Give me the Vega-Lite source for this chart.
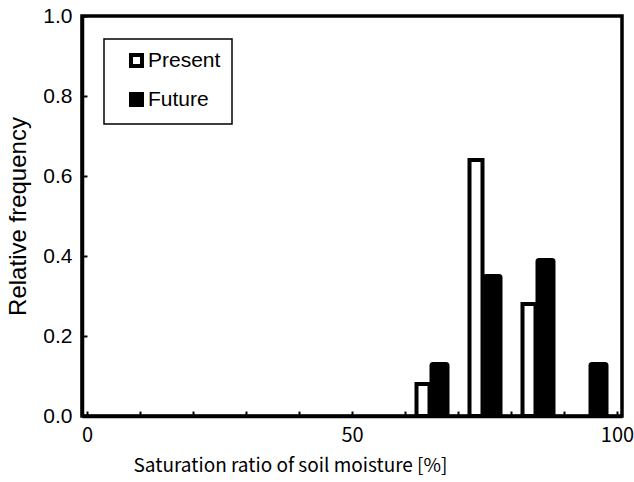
{
  "$schema": "https://vega.github.io/schema/vega-lite/v6.json",
  "width": 540,
  "height": 400,
  "autosize": {"type": "none"},
  "padding": {"left": 82, "top": 16, "right": 12, "bottom": 66},
  "background": "white",
  "config": {
    "view": {"stroke": "black", "strokeWidth": 3.5},
    "font": "Liberation Sans"
  },
  "data": {
    "values": [
      {"moisture": 65, "period": "Present", "freq": 0.08},
      {"moisture": 75, "period": "Present", "freq": 0.64},
      {"moisture": 85, "period": "Present", "freq": 0.28},
      {"moisture": 65, "period": "Future", "freq": 0.13},
      {"moisture": 75, "period": "Future", "freq": 0.35},
      {"moisture": 85, "period": "Future", "freq": 0.39},
      {"moisture": 95, "period": "Future", "freq": 0.13}
    ]
  },
  "encoding": {
    "x": {
      "field": "moisture",
      "type": "quantitative",
      "scale": {"domain": [0, 100], "nice": false},
      "axis": {
        "title": "Saturation ratio of soil moisture [%]",
        "values": [0, 10, 20, 30, 40, 50, 60, 70, 80, 90, 100],
        "labelExpr": "datum.value % 50 === 0 ? datum.label : ''",
        "grid": false,
        "tickSize": -5,
        "tickWidth": 2,
        "tickColor": "black",
        "domainColor": "black",
        "domainWidth": 3.5,
        "labelFont": "Noto Sans CJK JP",
        "labelFontSize": 20,
        "labelColor": "black",
        "labelPadding": 14,
        "labelFlush": false,
        "labelAlign": "center",
        "titleFont": "Noto Sans CJK JP",
        "titleFontSize": 19,
        "titleFontWeight": "normal",
        "titleColor": "black",
        "titlePadding": 11,
        "titleX": 208
      }
    },
    "y": {
      "field": "freq",
      "type": "quantitative",
      "scale": {"domain": [0, 1], "nice": false},
      "axis": {
        "title": "Relative frequency",
        "values": [0, 0.2, 0.4, 0.6, 0.8, 1],
        "format": ".1f",
        "grid": false,
        "tickSize": -5,
        "tickWidth": 2,
        "tickColor": "black",
        "domainColor": "black",
        "domainWidth": 3.5,
        "labelFontSize": 21,
        "labelColor": "black",
        "labelPadding": 15,
        "labelFlush": false,
        "titleFontSize": 24,
        "titleFontWeight": "normal",
        "titleColor": "black",
        "titlePadding": 12
      }
    },
    "fill": {
      "field": "period",
      "type": "nominal",
      "scale": {"domain": ["Present", "Future"], "range": ["white", "black"]},
      "legend": {
        "title": null,
        "orient": "none",
        "legendX": 22,
        "legendY": 23,
        "direction": "vertical",
        "fillColor": "white",
        "strokeColor": "black",
        "padding": 11,
        "symbolOffset": 11,
        "symbolType": "square",
        "symbolSize": 121,
        "symbolStrokeColor": "black",
        "symbolStrokeWidth": 4,
        "labelFontSize": 21,
        "labelColor": "black",
        "labelOffset": 1,
        "rowPadding": 12,
        "encode": {"legend": {"update": {"strokeWidth": {"value": 1.5}}}}
      }
    }
  },
  "layer": [
    {
      "transform": [{"filter": "datum.period === 'Present'"}],
      "mark": {"type": "bar", "size": 13, "xOffset": -8.5, "stroke": "black", "strokeWidth": 4}
    },
    {
      "transform": [{"filter": "datum.period === 'Future'"}],
      "mark": {"type": "bar", "size": 16, "xOffset": 8, "stroke": "black", "strokeWidth": 4, "cornerRadius": 1.5}
    }
  ]
}
